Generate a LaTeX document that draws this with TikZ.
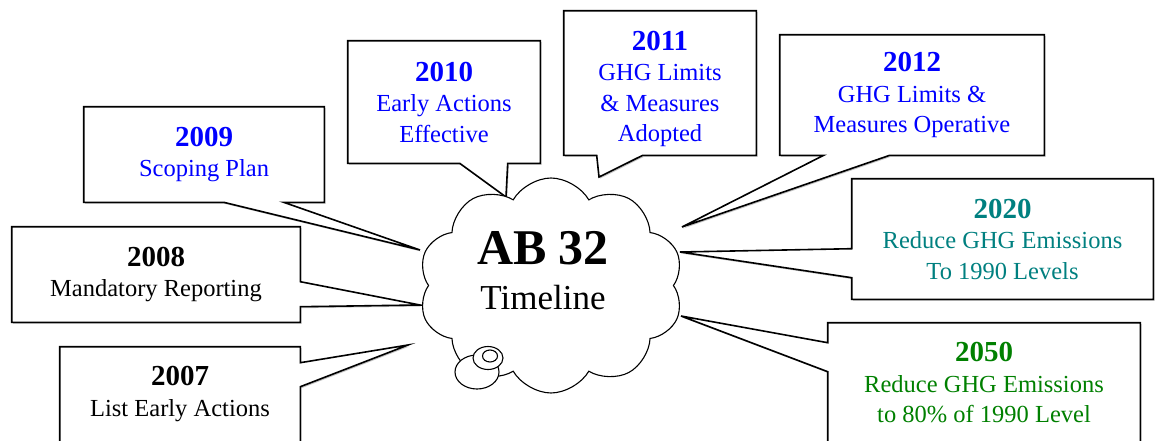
\documentclass[tikz,border=0pt]{standalone}
\usepackage{fontspec}
\setmainfont{Liberation Serif}
\usetikzlibrary{shapes.symbols,shadows}
\pgfdeclarelayer{background}
\pgfsetlayers{background,main}
\definecolor{tealtxt}{RGB}{0,128,128}
\definecolor{greentxt}{RGB}{0,128,0}
\newcommand\yearline[1]{{\fontsize{29}{30}\selectfont\bfseries #1}}

\begin{document}
\begin{tikzpicture}[x=1pt,y=-1pt,semithick]
  \tikzstyle{box}=[inner sep=0pt,align=center,font=\fontsize{24.5}{30.5}\selectfont]
  \tikzstyle{callout}=[draw,line width=1.6pt,fill=white,
    drop shadow={shadow xshift=1.2pt,shadow yshift=-1.5pt,fill=black!40,opacity=.6}]
  \useasboundingbox (0,0) rectangle (1156,440);

  \node[box,text=blue,minimum width=240pt,minimum height=95pt]  (b09) at (204,154.5) {\yearline{2009}\\Scoping Plan};
  \node[box,text=blue,minimum width=192pt,minimum height=122pt] (b10) at (444,102)   {\yearline{2010}\\Early Actions\\Effective};
  \node[box,text=blue,minimum width=192pt,minimum height=132pt] (b11) at (660,89)    {\yearline{2011}\\GHG Limits\\\& Measures\\Adopted};
  \node[box,text=blue,minimum width=264pt,minimum height=120pt] (b12) at (912,95)    {\yearline{2012}\\GHG Limits \&\\Measures Operative};
  \node[box,text=tealtxt,minimum width=301pt,minimum height=120pt]  (b20) at (1002.5,239) {\yearline{2020}\\Reduce GHG Emissions\\To 1990 Levels};
  \node[box,text=greentxt,minimum width=312pt,minimum height=120pt] (b50) at (984,383)    {\yearline{2050}\\Reduce GHG Emissions\\to 80\% of 1990 Level};
  \node[box,minimum width=288pt,minimum height=95pt] (b08) at (156,274.5) {\yearline{2008}\\Mandatory Reporting};
  \node[box,minimum width=240pt,minimum height=94pt] (b07) at (180,394)   {\yearline{2007}\\List Early Actions};

  \coordinate (p09) at (420,250);
  \coordinate (p10) at (506,197);
  \coordinate (p11) at (599,177);
  \coordinate (p12) at (682,227);
  \coordinate (p20) at (680,252);
  \coordinate (p50) at (681,316);
  \coordinate (p08) at (420,305);
  \coordinate (p07) at (408,345);

  \begin{pgfonlayer}{background}
    \draw[callout] (b09.north west) -- (b09.north east) -- (b09.south east) -- ([xshift=200pt]b09.south west)
      -- (p09) -- ([xshift=140pt]b09.south west) -- (b09.south west) -- cycle;
    \draw[callout] (b10.north west) -- (b10.north east) -- (b10.south east) -- ([xshift=160pt]b10.south west)
      -- (p10) -- ([xshift=112pt]b10.south west) -- (b10.south west) -- cycle;
    \draw[callout] ([yshift=12pt]b11.north west) -- ([yshift=12pt]b11.north east) -- (b11.south east) -- ([xshift=79pt]b11.south west)
      -- (p11) -- ([xshift=33pt]b11.south west) -- (b11.south west) -- cycle;
    \draw[callout] (b12.north west) -- (b12.north east) -- (b12.south east) -- ([xshift=110pt]b12.south west)
      -- (p12) -- ([xshift=44pt]b12.south west) -- (b12.south west) -- cycle;
    \draw[callout] (b20.north west) -- (b20.north east) -- (b20.south east) -- (b20.south west)
      -- ([yshift=-99pt]b20.north west) -- (p20) -- ([yshift=-70pt]b20.north west) -- cycle;
    \draw[callout] (b50.north west) -- (b50.north east) -- ([yshift=-130pt]b50.north east) -- ([yshift=-130pt]b50.north west)
      -- ([yshift=-49pt]b50.north west) -- (p50) -- ([yshift=-20pt]b50.north west) -- cycle;
    \draw[callout] (b08.north west) -- (b08.north east) -- ([yshift=-55pt]b08.north east) -- (p08)
      -- ([yshift=-80pt]b08.north east) -- (b08.south east) -- (b08.south west) -- cycle;
    \draw[callout] (b07.north west) -- (b07.north east) -- ([yshift=-16pt]b07.north east) -- (p07)
      -- ([yshift=-40pt]b07.north east) -- ([yshift=-110pt]b07.north east) -- ([yshift=-110pt]b07.north west) -- cycle;
  \end{pgfonlayer}

  \node[cloud,cloud ignores aspect,cloud puffs=10,cloud puff arc=120,draw,fill=white,line width=1.1pt,
        minimum width=265pt,minimum height=215pt] (ab) at (551,285.5) {};
  \node[align=center,font=\fontsize{35}{45}\selectfont] (abtext) at (543,271)
        {{\fontsize{50}{50}\selectfont\bfseries AB 32}\\Timeline};

  \draw[line width=1.1pt,fill=white] (477,372) ellipse (22pt and 17pt);
  \draw[line width=1.1pt,fill=white] (488,358) ellipse (15pt and 11.5pt);
  \draw[line width=1.1pt,fill=white] (490,356) ellipse (7.5pt and 6pt);
\end{tikzpicture}
\end{document}
